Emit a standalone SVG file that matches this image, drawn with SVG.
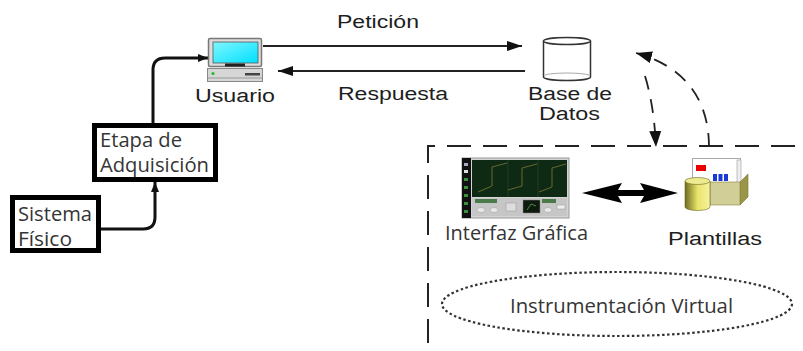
<svg xmlns="http://www.w3.org/2000/svg" width="803" height="351" viewBox="0 0 803 351">
  <defs>
    <style>
      .lbl { font-family: "Liberation Sans", Arial, sans-serif; font-size: 18px; fill: #1e1e1e; }
      .cal { font-family: "Open Sans", "Liberation Sans", sans-serif; font-size: 20px; fill: #353535; }
      .box { fill: #fff; stroke: #000; stroke-width: 5; }
      .conn { fill: none; stroke: #111; stroke-width: 3; }
      .thin { fill: none; stroke: #222; stroke-width: 2; }
      .dash { fill: none; stroke: #222; stroke-width: 2; stroke-dasharray: 24 12; }
      .dcurve { fill: none; stroke: #222; stroke-width: 1.8; stroke-dasharray: 14 10; }
    </style>
    <marker id="ah" viewBox="0 0 10 8" refX="10" refY="4" markerWidth="10" markerHeight="8" markerUnits="userSpaceOnUse" orient="auto">
      <path d="M0,0 L10,4 L0,8 Z" fill="#111"/>
    </marker>
    <marker id="ahs" viewBox="0 0 15 10" refX="15" refY="5" markerWidth="15" markerHeight="10" markerUnits="userSpaceOnUse" orient="auto">
      <path d="M0,0 L15,5 L0,10 Z" fill="#111"/>
    </marker>
    <marker id="ahd" viewBox="0 0 16 12" refX="16" refY="6" markerWidth="16" markerHeight="12" markerUnits="userSpaceOnUse" orient="auto">
      <path d="M0,0 L16,6 L0,12 Z" fill="#111"/>
    </marker>
    <linearGradient id="screen" x1="0" y1="0" x2="1" y2="1">
      <stop offset="0" stop-color="#7ff6ff"/>
      <stop offset="1" stop-color="#00e0ff"/>
    </linearGradient>
    <linearGradient id="cyl" x1="0" y1="0" x2="1" y2="0">
      <stop offset="0" stop-color="#6e6a1e"/>
      <stop offset="0.5" stop-color="#e8e46a"/>
      <stop offset="1" stop-color="#f6f2a0"/>
    </linearGradient>
  </defs>

  <!-- connectors -->
  <g id="connectors">
    <path class="thin" d="M263,46 H522" marker-end="url(#ahs)"/>
    <path class="thin" d="M525,71 H278" marker-end="url(#ahs)"/>
    <path class="conn" d="M153,123 V70 Q153,58 165,58 H208" marker-end="url(#ah)"/>
    <path class="conn" d="M100,229 H143 Q155,229 155,217 V182" marker-end="url(#ah)"/>
    <path class="dcurve" d="M709,147 C709,105 690,68 636,53" marker-end="url(#ahd)"/>
    <path class="dcurve" d="M645,76 Q654,105 656,147" marker-end="url(#ahd)"/>
    <!-- double-headed arrow between the interface and the templates -->
    <path d="M582,193 L622,183 L618,190 L644,190 L640,183 L678,193 L640,203 L644,196 L618,196 L622,203 Z" fill="#000"/>
  </g>

  <!-- dashed frame of the virtual instrumentation area -->
  <path class="dash" d="M428,343 V146 H803"/>

  <g id="usuario">
    <rect x="208.5" y="38.5" width="53" height="28" rx="1.5" fill="#dcdcdc" stroke="#777" stroke-width="1.5"/>
    <rect x="213" y="42" width="45" height="21" fill="url(#screen)" stroke="#555" stroke-width="0.8"/>
    <rect x="225" y="63.5" width="20" height="3" fill="#222"/>
    <rect x="207.5" y="68.5" width="55" height="13" fill="#d6d6d6" stroke="#888" stroke-width="1"/>
    <line x1="208" y1="78" x2="262" y2="78" stroke="#999" stroke-width="1"/>
    <circle cx="213" cy="73.5" r="1.6" fill="#1fbf1f"/>
    <rect x="245" y="73" width="15" height="2.5" fill="#444"/>
    <text class="lbl" x="195" y="102" textLength="80" lengthAdjust="spacingAndGlyphs">Usuario</text>
  </g>

  <g id="peticion">
    <text class="lbl" x="337" y="28" textLength="82" lengthAdjust="spacingAndGlyphs">Petición</text>
  </g>
  <g id="respuesta">
    <text class="lbl" x="338" y="100" textLength="110" lengthAdjust="spacingAndGlyphs">Respuesta</text>
  </g>

  <g id="base-datos">
    <path d="M543.5,41 V77 A23.5,3.5 0 0 0 590.5,77 V41" fill="#fff" stroke="#333" stroke-width="1.5"/>
    <ellipse cx="567" cy="41" rx="23.5" ry="3.5" fill="#fff" stroke="#333" stroke-width="1.5"/>
    <path d="M544,76 A23,3 0 0 1 590,76" fill="none" stroke="#aaa" stroke-width="1"/>
    <text class="lbl" x="528" y="100" textLength="84" lengthAdjust="spacingAndGlyphs">Base de</text>
    <text class="lbl" x="539" y="120" textLength="61" lengthAdjust="spacingAndGlyphs">Datos</text>
  </g>

  <g id="etapa-adquisicion">
    <rect class="box" x="94.5" y="125.5" width="121" height="54"/>
    <text class="cal" x="100" y="147" textLength="82" lengthAdjust="spacingAndGlyphs">Etapa de</text>
    <text class="cal" x="100" y="172" textLength="109" lengthAdjust="spacingAndGlyphs">Adquisición</text>
  </g>

  <g id="sistema-fisico">
    <rect class="box" x="12.5" y="197.5" width="86" height="53"/>
    <text class="cal" x="18" y="221" font-size="19" textLength="74" lengthAdjust="spacingAndGlyphs">Sistema</text>
    <text class="cal" x="18" y="246" font-size="19" textLength="54" lengthAdjust="spacingAndGlyphs">Físico</text>
  </g>

  <g id="interfaz-grafica">
    <rect x="462" y="158" width="107" height="60" fill="#d4d4d4" stroke="#999" stroke-width="1"/>
    <rect x="462" y="158" width="9" height="60" fill="#111"/>
    <g fill="#3d8f40">
      <rect x="464" y="163" width="4" height="3" fill="#aab"/>
      <rect x="464" y="170" width="4" height="3" fill="#ddd"/>
      <rect x="464" y="178" width="4" height="3"/>
      <rect x="464" y="186" width="4" height="3"/>
      <rect x="464" y="194" width="4" height="3"/>
      <rect x="464" y="202" width="4" height="3"/>
      <rect x="464" y="210" width="4" height="3"/>
    </g>
    <rect x="472" y="160" width="95" height="37" fill="#0f2a14"/>
    <g stroke="#2e4a32" stroke-width="0.6">
      <line x1="508" y1="160" x2="508" y2="197"/>
      <line x1="538" y1="160" x2="538" y2="197"/>
    </g>
    <g fill="none" stroke="#8a8438" stroke-width="0.7">
      <path d="M478,192 L492,186 V167 L507,163"/>
      <path d="M508,190 L522,186 V168 L537,164"/>
      <path d="M539,192 L552,187 V168 L566,164"/>
    </g>
    <rect x="472" y="198" width="95" height="18" fill="#c6c6c6"/>
    <rect x="475" y="199" width="22" height="4" fill="#4a7a4a"/>
    <rect x="542" y="199" width="14" height="4" fill="#4a7a4a"/>
    <rect x="523" y="200" width="17" height="13" fill="#0d1a0d" stroke="#888" stroke-width="0.5"/>
    <path d="M527,210 L531,204 L536,206" fill="none" stroke="#7c7" stroke-width="0.6"/>
    <g fill="#e8e8e8" stroke="#999" stroke-width="0.5">
      <ellipse cx="481" cy="210" rx="4" ry="2.5"/>
      <ellipse cx="494" cy="210" rx="4" ry="2.5"/>
      <ellipse cx="548" cy="210" rx="4" ry="2.5"/>
    </g>
    <rect x="506" y="203" width="10" height="8" fill="#ddd" stroke="#999" stroke-width="0.5"/>
    <rect x="557" y="205" width="8" height="4" fill="#eee" stroke="#999" stroke-width="0.5"/>
    <text class="cal" x="445" y="240" textLength="143" lengthAdjust="spacingAndGlyphs">Interfaz Gráfica</text>
  </g>

  <g id="plantillas">
    <!-- card inside the box -->
    <rect x="692.5" y="158.5" width="48" height="26" fill="#fff" stroke="#aaa" stroke-width="1"/>
    <rect x="737" y="160" width="4" height="24" fill="#eee" stroke="#999" stroke-width="0.6"/>
    <rect x="696" y="165" width="10" height="6" fill="#e00"/>
    <g fill="#1a3ad8">
      <rect x="713" y="174" width="4" height="7"/>
      <rect x="718.5" y="174" width="4" height="7"/>
      <rect x="724" y="174" width="4" height="7"/>
    </g>
    <!-- box -->
    <path d="M740,182 L748,174 V197 L740,205 Z" fill="#9a9648" stroke="#7a7632" stroke-width="0.6"/>
    <rect x="710" y="182" width="30" height="23" fill="#d2ce98" stroke="#8a8640" stroke-width="0.6"/>
    <!-- cylinder -->
    <path d="M685,181 V207 A12.5,3.5 0 0 0 710,207 V181" fill="url(#cyl)" stroke="#6a6620" stroke-width="0.6"/>
    <ellipse cx="697.5" cy="181" rx="12.5" ry="3.5" fill="#eeea90" stroke="#6a6620" stroke-width="0.6"/>
    <text class="lbl" x="668" y="245" font-size="17" textLength="94" lengthAdjust="spacingAndGlyphs">Plantillas</text>
  </g>

  <g id="instrumentacion-virtual">
    <ellipse cx="617" cy="304" rx="175" ry="32" fill="none" stroke="#333" stroke-width="2.2" stroke-dasharray="2.5 2.5"/>
    <text class="cal" x="510" y="313" textLength="223" lengthAdjust="spacingAndGlyphs">Instrumentación Virtual</text>
  </g>
</svg>
